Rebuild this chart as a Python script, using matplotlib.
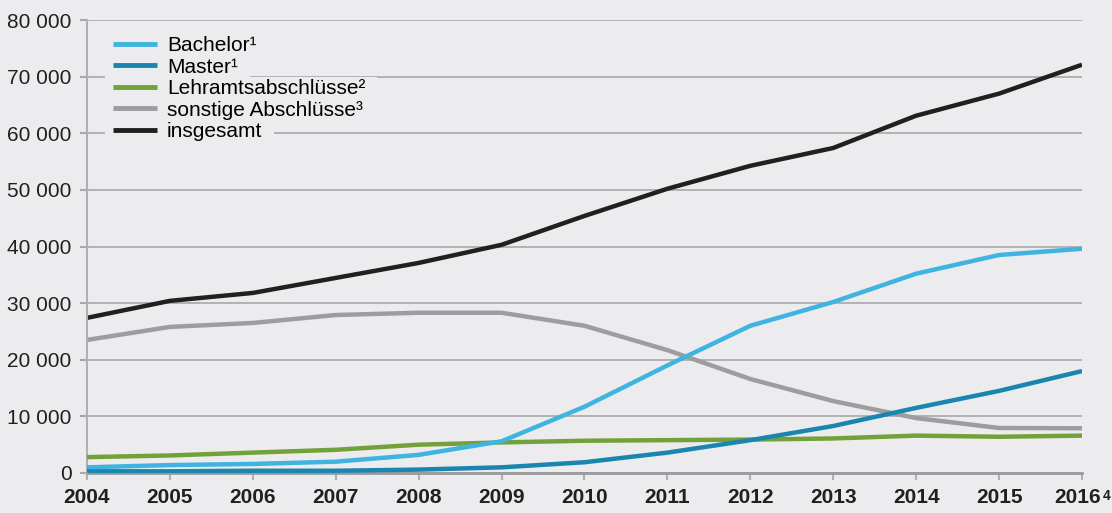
import numpy as np
import matplotlib.pyplot as plt
from matplotlib.patches import Rectangle
from matplotlib.transforms import IdentityTransform, ScaledTranslation

plt.rcParams['font.family'] = ['Liberation Sans', 'DejaVu Sans']

years = [2004, 2005, 2006, 2007, 2008, 2009, 2010, 2011, 2012, 2013, 2014, 2015, 2016]
year_labels = ["2004", "2005", "2006", "2007", "2008", "2009", "2010", "2011",
               "2012", "2013", "2014", "2015", "2016"]
last_note = "4"

bachelor = [1000, 1400, 1600, 2000, 3200, 5600, 11700, 19000, 26000, 30200, 35200, 38500, 39600]
master = [300, 300, 400, 400, 600, 1000, 1900, 3600, 5800, 8300, 11500, 14500, 18000]
lehramt = [2800, 3100, 3600, 4100, 5000, 5400, 5700, 5800, 5900, 6100, 6600, 6400, 6600]
sonstige = [23500, 25800, 26500, 27900, 28300, 28300, 26000, 21700, 16600, 12700, 9700, 7950, 7900]
insgesamt = [27400, 30400, 31800, 34450, 37100, 40300, 45400, 50200, 54250, 57400, 63100, 67000, 72100]

series = [
    ("Bachelor\u00b9", bachelor, "#3fb4e0", 4),
    ("Master\u00b9", master, "#1a86b0", 5),
    ("Lehramtsabschl\u00fcsse\u00b2", lehramt, "#72a13a", 3),
    ("sonstige Abschl\u00fcsse\u00b3", sonstige, "#9d9d9f", 2),
    ("insgesamt", insgesamt, "#231f20", 2),
]

bg = "#ececee"
fig = plt.figure(figsize=(11.12, 5.13), dpi=100, facecolor=bg)
ax = fig.add_axes([87/1112, 1 - 473/513, 995/1112, 453/513], facecolor=bg)

for name, vals, col, z in series:
    ax.plot(years, vals, color=col, lw=3.2, label=name, zorder=z, solid_capstyle="butt")

ax.set_yticks(np.arange(0, 80001, 10000))
ax.set_yticklabels([f"{v:,}".replace(",", " ") for v in range(0, 80001, 10000)],
                   fontsize=15, color="#231f20")
ax.set_xticks(years)
ax.set_xticklabels(year_labels, fontsize=15, fontweight="bold", color="#231f20")

ax.grid(axis="y", color="#a8a8aa", lw=1.2, zorder=0)
ax.set_axisbelow(True)
for s in ["top", "right"]:
    ax.spines[s].set_visible(False)
ax.spines["left"].set_color("#b0b0b2")
ax.spines["left"].set_linewidth(1.5)
ax.spines["bottom"].set_color("#9a9a9c")
ax.spines["bottom"].set_linewidth(2)
ax.spines["bottom"].set_zorder(1)
ax.tick_params(axis="y", length=5, width=1.5, color="#a8a8aa", pad=6)
ax.tick_params(axis="x", length=5, width=1.5, color="#b0b0b2", pad=6)

# shift last year label a little left to leave room for the footnote mark
lab = ax.get_xticklabels()[-1]
lab.set_transform(lab.get_transform() + ScaledTranslation(-4/100, 0, fig.dpi_scale_trans))

leg = ax.legend(loc="upper left", bbox_to_anchor=(0.018, 0.983), borderaxespad=0,
                frameon=False, fontsize=15, handlelength=2.1, handletextpad=0.48,
                labelspacing=0.12, borderpad=0.4)
leg.set_zorder(7)
for line in leg.get_lines():
    line.set_linewidth(3.5)

ax.set_xlim(2004, 2016)
ax.set_ylim(0, 80000)

fig.canvas.draw()
r = fig.canvas.get_renderer()

# background boxes behind each legend row hide the gridlines there
for line, txt in zip(leg.get_lines(), leg.get_texts()):
    bl = line.get_window_extent(r)
    bt = txt.get_window_extent(r)
    x0 = bl.x0 - 8
    y0 = bt.y0 - 2
    ax.add_patch(Rectangle((x0, y0), bt.x1 + 12 - x0, bt.height + 4,
                           transform=IdentityTransform(), facecolor=bg,
                           edgecolor="none", zorder=6, clip_on=False))

# footnote mark on the last year label
bb = ax.get_xticklabels()[-1].get_window_extent(r)
fig.text(bb.x1 + 1, bb.y1 - 1, last_note, transform=IdentityTransform(),
         fontsize=10, fontweight="bold", color="#231f20", ha="left", va="top")

ax.set_xlim(2004, 2016)
ax.set_ylim(0, 80000)

fig.savefig("out.png", dpi=100, facecolor=bg)
